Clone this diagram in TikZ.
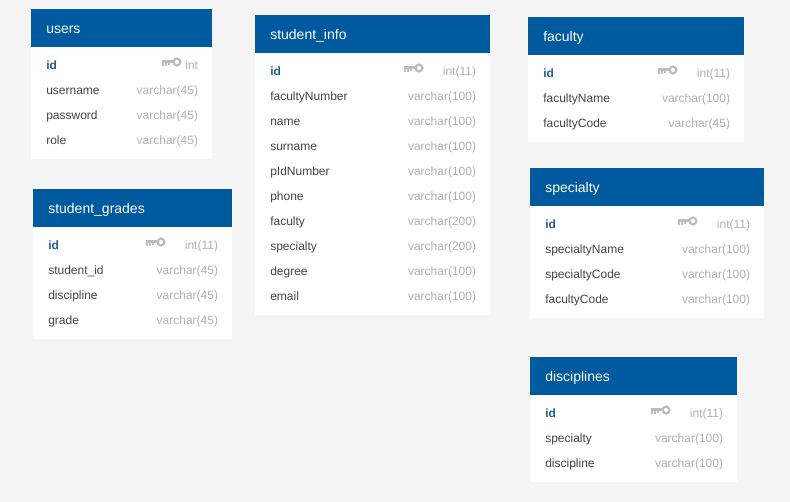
\documentclass[tikz,border=0pt]{standalone}
\usepackage{fontspec}
\setmainfont{Liberation Sans}
\definecolor{pagebg}{HTML}{F5F5F5}
\definecolor{headblue}{HTML}{005A9F}
\definecolor{idblue}{HTML}{1F5F99}
\definecolor{fieldgrey}{HTML}{444444}
\definecolor{typegrey}{HTML}{B0B0B0}
\definecolor{keygrey}{HTML}{BDBDBD}
\tikzset{
    x=0.75pt, y=-0.75pt,
    tablehead/.style={anchor=west, text=white, font=\fontsize{10.5}{12}\selectfont, inner sep=0pt},
    fieldname/.style={anchor=base west, text=fieldgrey, font=\fontsize{9}{11}\selectfont, inner sep=0pt},
    idname/.style={anchor=base west, text=idblue, font=\bfseries\fontsize{9}{11}\selectfont, inner sep=0pt},
    fieldtype/.style={anchor=base east, text=typegrey, font=\fontsize{9}{11}\selectfont, inner sep=0pt},
}

% #1 node name, #2 title, #3 left, #4 right, #5 top, #6 bottom, #7 key x, #8 id type, #9 rows
\newcommand{\erdtable}[9]{
    \fill[white] (#3,#5) rectangle (#4,#6);
    \fill[headblue] (#3,#5) rectangle (#4,#5+38);
    \node[tablehead] (#1) at (#3+15,#5+20.5) {#2};
    \node[idname] (#1-id) at (#3+15,#5+61) {id};
    \node[fieldtype] (#1-idtype) at (#4-13.7,#5+61) {#8};
    % Chiave
    \fill[keygrey] (#7,#5+51) rectangle (#7+12,#5+54);
    \fill[keygrey] (#7,#5+53) rectangle (#7+2,#5+57);
    \fill[keygrey] (#7+3,#5+53) rectangle (#7+5,#5+57);
    \fill[keygrey] (#7+6,#5+53) rectangle (#7+8,#5+56);
    \draw[keygrey, line width=1.7pt] (#7+15,#5+53) circle [radius=3.4];
    % Righe
    \foreach \fname/\ftype [count=\i from 1] in {#9} {
        \node[fieldname] (#1-\i) at (#3+15,#5+61+25*\i) {\fname};
        \node[fieldtype] (#1-type\i) at (#4-13.7,#5+61+25*\i) {\ftype};
    }
}

\begin{document}
\begin{tikzpicture}

    \useasboundingbox (0,0) rectangle (790,502);
    \fill[pagebg] (0,0) rectangle (790,502);

    \erdtable{users}{users}{31}{212}{9}{159}{162}{int}
        {username/varchar(45), password/varchar(45), role/varchar(45)}

    \erdtable{grades}{student\_grades}{33}{232}{189}{339}{146}{int(11)}
        {student\_id/varchar(45), discipline/varchar(45), grade/varchar(45)}

    \erdtable{info}{student\_info}{255}{490}{15}{315}{404}{int(11)}
        {facultyNumber/varchar(100), name/varchar(100), surname/varchar(100),
         pIdNumber/varchar(100), phone/varchar(100), faculty/varchar(200),
         specialty/varchar(200), degree/varchar(100), email/varchar(100)}

    \erdtable{faculty}{faculty}{528}{744}{17}{142}{658}{int(11)}
        {facultyName/varchar(100), facultyCode/varchar(45)}

    \erdtable{specialty}{specialty}{530}{764}{168}{318}{678}{int(11)}
        {specialtyName/varchar(100), specialtyCode/varchar(100), facultyCode/varchar(100)}

    \erdtable{disciplines}{disciplines}{530}{737}{357}{482}{651}{int(11)}
        {specialty/varchar(100), discipline/varchar(100)}

\end{tikzpicture}
\end{document}
